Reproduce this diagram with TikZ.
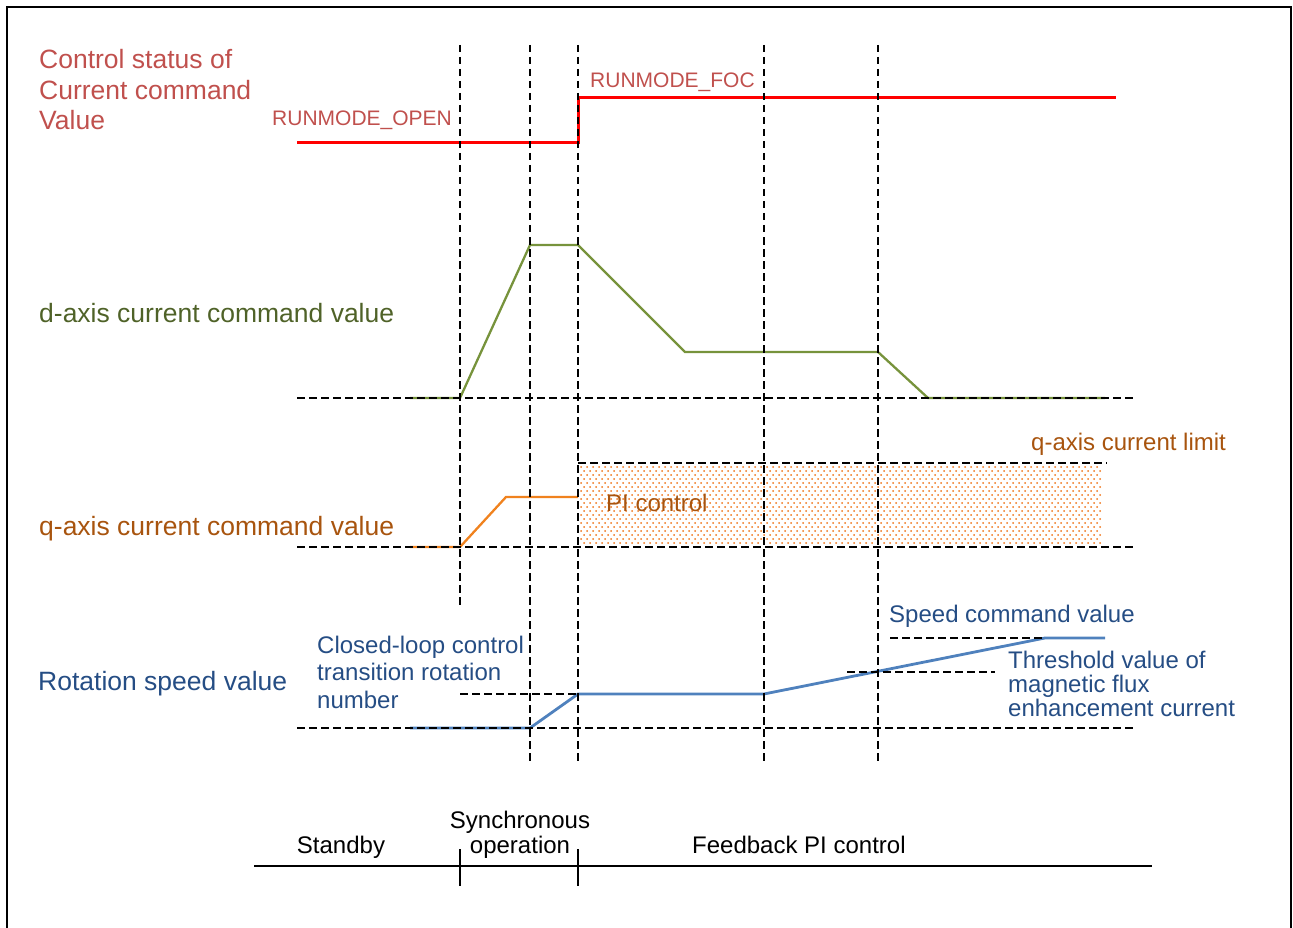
\documentclass[tikz,border=0pt]{standalone}
\usepackage{fontspec}
\setmainfont{Liberation Sans}
\definecolor{redtxt}{HTML}{C0504D}
\definecolor{redline}{HTML}{FF0000}
\definecolor{greentxt}{HTML}{4F6228}
\definecolor{greenline}{HTML}{77933C}
\definecolor{orangetxt}{HTML}{A8540E}
\definecolor{orangeline}{HTML}{F0821E}
\definecolor{dotcol}{HTML}{EE7418}
\definecolor{bluetxt}{HTML}{254D84}
\definecolor{blueline}{HTML}{4F81BD}
\begin{document}
\begin{tikzpicture}[x=1pt,y=-1pt,
  grid/.style={black,line width=2pt,dash pattern=on 7.5pt off 4.5pt},
  bigtext/.style={inner sep=0pt,anchor=base west,font=\fontsize{26.5}{30.3}\selectfont,align=left},
  midtext/.style={inner sep=0pt,anchor=base west,font=\fontsize{24}{27.5}\selectfont,align=left},
  smalltext/.style={inner sep=0pt,anchor=base west,font=\fontsize{21}{24}\selectfont},
  sig/.style={line width=2.3pt,line join=miter}]
\useasboundingbox (0,0) rectangle (1293,928);
% frame
\draw[line width=2.8pt] (7,935) -- (7,7) -- (1291,7) -- (1291,935);

% ---------- coloured signals (below the dashed grid) ----------
% control status
\coordinate (r0) at (297,143);
\coordinate (r1) at (578,143);
\coordinate (r2) at (578,98);
\coordinate (r3) at (1116,98);
\draw[sig,redline,line width=3pt] (r0) -- (r1) -- (r2) -- (r3);

% d-axis
\coordinate (d0) at (410,398);
\coordinate (d1) at (460,398);
\coordinate (d2) at (530,245);
\coordinate (d3) at (578,245);
\coordinate (d4) at (685,352);
\coordinate (d5) at (878,352);
\coordinate (d6) at (928,398);
\coordinate (d7) at (1105,398);
\draw[sig,greenline] (d0) -- (d1) -- (d2) -- (d3) -- (d4) -- (d5) -- (d6) -- (d7);

% q-axis: dotted PI-control region
\foreach \r in {0,...,19}{
  \pgfmathsetmacro{\yy}{467+4*\r}
  \pgfmathsetmacro{\xo}{581+3*mod(\r,2)}
  \foreach \c in {0,...,86}{
    \fill[dotcol] ({\xo+6*\c},\yy) circle[radius=1pt];
  }
}
\coordinate (q0) at (410,547);
\coordinate (q1) at (460,547);
\coordinate (q2) at (506,497);
\coordinate (q3) at (578,497);
\draw[sig,orangeline] (q0) -- (q1) -- (q2) -- (q3);

% speed
\coordinate (s0) at (410,728);
\coordinate (s1) at (530,728);
\coordinate (s2) at (578,694);
\coordinate (s3) at (764,694);
\coordinate (s4) at (1045,638);
\coordinate (s5) at (1105,638);
\draw[sig,blueline,line width=2.8pt] (s0) -- (s1) -- (s2) -- (s3) -- (s4) -- (s5);

% ---------- dashed grid ----------
\coordinate (v1t) at (460,45);  \coordinate (v1b) at (460,608);
\coordinate (v2t) at (530,45);  \coordinate (v2b) at (530,765);
\coordinate (v3t) at (578,45);  \coordinate (v3b) at (578,765);
\coordinate (v4t) at (764,45);  \coordinate (v4b) at (764,765);
\coordinate (v5t) at (878,45);  \coordinate (v5b) at (878,765);
\foreach \t/\b in {v1t/v1b,v2t/v2b,v3t/v3b,v4t/v4b,v5t/v5b}
  \draw[grid] (\t) -- (\b);

\draw[grid] (297,398) -- (1133,398);
\draw[grid] (297,547) -- (1133,547);
\draw[grid] (578,463) -- (1107,463);
\draw[grid] (297,728) -- (1133,728);
\draw[grid] (460,694) -- (578,694);
\draw[grid] (847,672) -- (995,672);
\draw[grid] (890,638) -- (1043,638);

% ---------- labels ----------
\node[bigtext,text=redtxt] (lctrl) at (39,129.5) {Control status of\\Current command\\Value};
\node[smalltext,text=redtxt] (lopen) at (272,126) {RUNMODE\_OPEN};
\node[smalltext,text=redtxt] (lfoc) at (590,88) {RUNMODE\_FOC};

\node[bigtext,text=greentxt] (ld) at (39,322) {d-axis current command value};

\node[bigtext,text=orangetxt] (lq) at (39,535) {q-axis current command value};
\node[midtext,text=orangetxt] (llim) at (1031,450) {q-axis current limit};
\node[midtext,text=orangetxt] (lpi) at (606,511) {PI control};

\node[bigtext,text=bluetxt] (lspd) at (38,690) {Rotation speed value};
\node[midtext,text=bluetxt] (lclose) at (317,708) {Closed-loop control\\transition rotation\\number};
\node[midtext,text=bluetxt] (lcmd) at (889,622) {Speed command value};
\node[midtext,text=bluetxt,font=\fontsize{24}{24}\selectfont] (lthr) at (1008,716) {Threshold value of\\magnetic flux\\enhancement current};

% ---------- bottom timeline ----------
\coordinate (tl0) at (254,866);
\coordinate (tl1) at (1152,866);
\coordinate (tk1t) at (460,849); \coordinate (tk1b) at (460,886);
\coordinate (tk2t) at (578,849); \coordinate (tk2b) at (578,886);
\draw[line width=2.2pt] (tl0) -- (tl1);
\draw[line width=1.4pt] (tk1t) -- (tk1b);
\draw[line width=1.4pt] (tk2t) -- (tk2b);
\node[midtext,anchor=base] (lstb) at (341,853) {Standby};
\node[midtext,anchor=base] (lsyn1) at (520,828) {Synchronous};
\node[midtext,anchor=base] (lsyn2) at (520,853) {operation};
\node[midtext] (lfb) at (692,853) {Feedback PI control};
\end{tikzpicture}
\end{document}
